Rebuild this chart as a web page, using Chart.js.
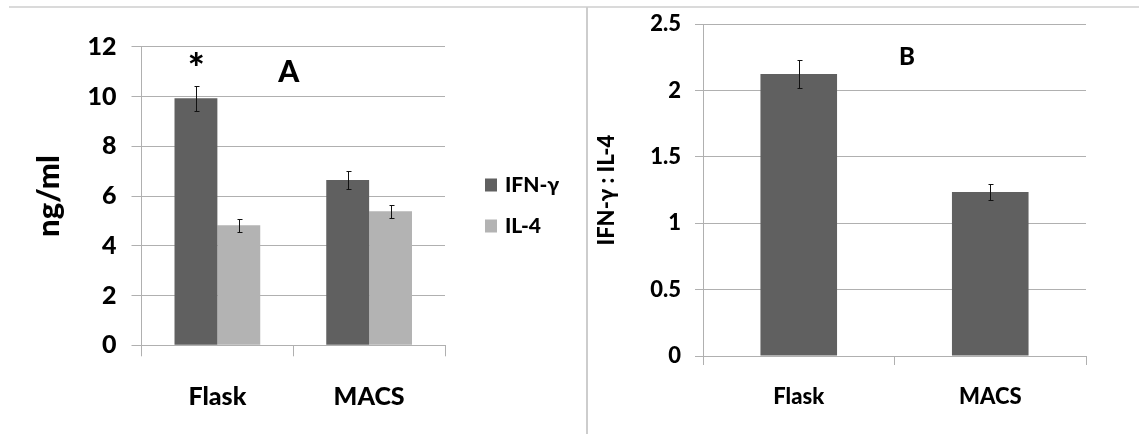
<!DOCTYPE html>
<html>
<head>
<meta charset="utf-8">
<script src="https://cdn.jsdelivr.net/npm/chart.js@4"></script>
<style>
  html, body { margin: 0; padding: 0; background: #fff; }
  #wrap { position: relative; width: 1139px; height: 434px; overflow: hidden; }
  #topLine { position: absolute; left: 9px; top: 6px; width: 1130px; height: 2px; background: #dadada; }
  #sepLine { position: absolute; left: 586px; top: 7px; width: 2px; height: 427px; background: #cdcdcd; }
  canvas { position: absolute; top: 0; }
</style>
</head>
<body>
<div id="wrap">
  <div id="topLine"></div>
  <div id="sepLine"></div>
  <canvas id="chartA" width="586" height="434" style="left:0"></canvas>
  <canvas id="chartB" width="551" height="434" style="left:588px"></canvas>
</div>
<script>
// values
const categories = ["Flask", "MACS"];
const ifnValues = [9.93, 6.64];
const ifnErrors = [0.5, 0.35];
const il4Values = [4.82, 5.39];
const il4Errors = [0.25, 0.26];
const ratioValues = [2.125, 1.236];
const ratioErrors = [0.107, 0.063];
const ticksA = [0, 2, 4, 6, 8, 10, 12];
const ticksB = [0, 0.5, 1, 1.5, 2, 2.5];

const FONT = "Lato, 'Open Sans', sans-serif";
const WEIGHT = "900";
const GRID = "#b0b0b0";
const DARK = "#606060";
const LIGHT = "#b3b3b3";

Chart.defaults.font.family = FONT;
Chart.defaults.color = "#000";

// whiskers drawn through the y scale
const errorBars = {
  id: "errorBars",
  afterDatasetsDraw(chart) {
    const ctx = chart.ctx;
    const y = chart.scales.y;
    ctx.save();
    ctx.strokeStyle = "#111";
    ctx.lineWidth = 1;
    chart.data.datasets.forEach((ds, i) => {
      chart.getDatasetMeta(i).data.forEach((bar, j) => {
        const v = ds.data[j], e = ds.errors[j];
        const top = Math.round(y.getPixelForValue(v + e)) + 0.5;
        const bot = Math.round(y.getPixelForValue(v - e)) + 0.5;
        const x = Math.round(bar.x) + 0.5;
        ctx.beginPath();
        ctx.moveTo(x, top); ctx.lineTo(x, bot);
        ctx.moveTo(x - 2, top); ctx.lineTo(x + 3, top);
        ctx.moveTo(x - 2, bot); ctx.lineTo(x + 3, bot);
        ctx.stroke();
      });
    });
    ctx.restore();
  }
};

// panel letters and significance star, placed in scale units
const marks = {
  id: "marks",
  afterDraw(chart, args, opts) {
    const ctx = chart.ctx;
    ctx.save();
    ctx.fillStyle = "#000";
    ctx.textAlign = "center";
    (opts.items || []).forEach(m => {
      ctx.font = `${WEIGHT} ${m.size}px ${FONT}`;
      ctx.textBaseline = m.baseline || "middle";
      ctx.fillText(m.text, chart.scales.x.getPixelForValue(m.x), chart.scales.y.getPixelForValue(m.y));
    });
    ctx.restore();
  }
};

// legend on the right of panel A
const sideLegend = {
  id: "sideLegend",
  afterDraw(chart, args, opts) {
    if (!opts.show) return;
    const ctx = chart.ctx;
    const area = chart.chartArea;
    const x0 = area.right + 40;
    const mid = (area.top + area.bottom) / 2;
    ctx.save();
    chart.data.datasets.forEach((ds, i) => {
      const cy = mid - 11 + i * 41;
      ctx.fillStyle = ds.backgroundColor;
      ctx.fillRect(x0, cy - 6.5, 12, 13);
      ctx.fillStyle = "#000";
      ctx.font = `${WEIGHT} 21px ${FONT}`;
      ctx.textAlign = "left";
      ctx.textBaseline = "middle";
      ctx.fillText(ds.label, x0 + 20, cy);
    });
    ctx.restore();
  }
};

function baseOptions(cfg) {
  return {
    responsive: false,
    animation: false,
    layout: { padding: cfg.padding },
    plugins: {
      legend: { display: false },
      tooltip: { enabled: false },
      marks: { items: cfg.marks },
      sideLegend: { show: cfg.legend }
    },
    scales: {
      x: {
        afterFit: s => { s.height = cfg.xHeight; s.paddingLeft = 0; s.paddingRight = 0; },
        grid: { offset: true, drawOnChartArea: false, drawTicks: true, tickLength: cfg.xTick, color: GRID },
        border: { display: true, color: GRID },
        ticks: { font: { size: cfg.xFont, weight: WEIGHT }, padding: cfg.xPad, color: "#000" }
      },
      y: {
        min: cfg.ticks[0],
        max: cfg.ticks[cfg.ticks.length - 1],
        afterBuildTicks: s => { s.ticks = cfg.ticks.map(v => ({ value: v })); },
        afterFit: s => { s.width = cfg.yWidth; s.paddingTop = 0; s.paddingBottom = 0; },
        grid: { color: GRID, tickLength: cfg.yTick },
        border: { display: true, color: GRID },
        ticks: { font: { size: cfg.yFont, weight: WEIGHT }, padding: cfg.yPad, color: "#000", callback: v => String(v) },
        title: { display: true, text: cfg.title, font: { size: cfg.titleFont, weight: WEIGHT }, padding: 0, color: "#000" }
      }
    }
  };
}

new Chart(document.getElementById("chartA"), {
  type: "bar",
  data: {
    labels: categories,
    datasets: [
      { label: "IFN-γ", data: ifnValues, errors: ifnErrors, backgroundColor: DARK, categoryPercentage: 0.565, barPercentage: 1 },
      { label: "IL-4", data: il4Values, errors: il4Errors, backgroundColor: LIGHT, categoryPercentage: 0.565, barPercentage: 1 }
    ]
  },
  options: baseOptions({
    padding: { left: 30, top: 46.7, right: 141, bottom: 0 },
    xHeight: 88.7, xTick: 11, xFont: 25, xPad: 26,
    yWidth: 111.5, yTick: 10, yFont: 25, yPad: 15,
    ticks: ticksA, title: "ng/ml", titleFont: 31,
    legend: true,
    marks: [
      { text: "*", x: -0.14, y: 10.55, size: 40, baseline: "alphabetic" },
      { text: "A", x: 0.47, y: 10.98, size: 30 }
    ]
  }),
  plugins: [errorBars, marks, sideLegend]
});

new Chart(document.getElementById("chartB"), {
  type: "bar",
  data: {
    labels: categories,
    datasets: [
      { label: "IFN-γ : IL-4", data: ratioValues, errors: ratioErrors, backgroundColor: DARK, categoryPercentage: 0.4, barPercentage: 1 }
    ]
  },
  options: baseOptions({
    padding: { left: 6, top: 24.3, right: 53, bottom: 0 },
    xHeight: 78, xTick: 9, xFont: 22, xPad: 19,
    yWidth: 109, yTick: 8, yFont: 22, yPad: 14,
    ticks: ticksB, title: "IFN-γ : IL-4", titleFont: 22,
    legend: false,
    marks: [
      { text: "B", x: 0.565, y: 2.253, size: 24 }
    ]
  }),
  plugins: [errorBars, marks, sideLegend]
});
</script>
</body>
</html>
